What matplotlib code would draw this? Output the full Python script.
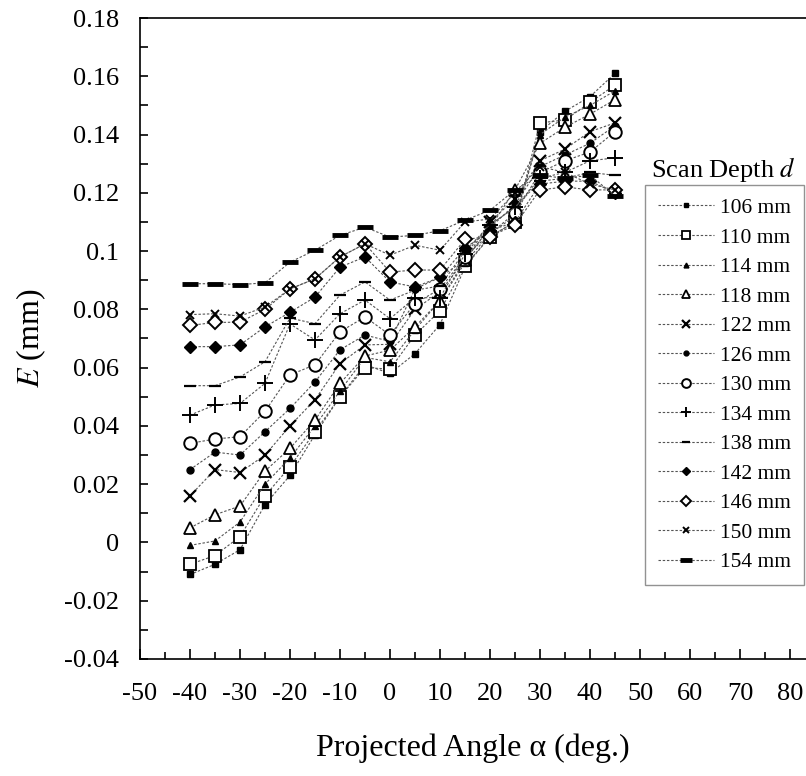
import matplotlib
matplotlib.use("Agg")
import matplotlib.pyplot as plt
from matplotlib.ticker import MultipleLocator

plt.rcParams['font.family'] = ['Liberation Serif', 'DejaVu Serif']
plt.rcParams['mathtext.fontset'] = 'stix'
plt.rcParams['axes.unicode_minus'] = False

angles = [-40, -35, -30, -25, -20, -15, -10, -5, 0, 5, 10, 15, 20, 25, 30, 35, 40, 45]

depth_labels = ['106 mm', '110 mm', '114 mm', '118 mm', '122 mm', '126 mm', '130 mm',
                '134 mm', '138 mm', '142 mm', '146 mm', '150 mm', '154 mm']

e_106 = [-0.011, -0.0075, -0.0025, 0.013, 0.023, 0.037, 0.050, 0.061, 0.058, 0.0648, 0.0748,
         0.0945, 0.105, 0.110, 0.141, 0.148, 0.153, 0.161]
e_110 = [-0.0075, -0.0045, 0.002, 0.016, 0.026, 0.038, 0.050, 0.060, 0.0595, 0.0712, 0.0795,
         0.095, 0.105, 0.110, 0.144, 0.145, 0.151, 0.157]
e_114 = [-0.001, 0.0005, 0.007, 0.020, 0.029, 0.040, 0.052, 0.0635, 0.062, 0.073, 0.083,
         0.096, 0.106, 0.112, 0.140, 0.146, 0.150, 0.155]
e_118 = [0.005, 0.0095, 0.0125, 0.0245, 0.0323, 0.042, 0.0546, 0.064, 0.066, 0.074, 0.083,
         0.097, 0.108, 0.121, 0.137, 0.1425, 0.147, 0.152]
e_122 = [0.016, 0.025, 0.024, 0.030, 0.040, 0.049, 0.0614, 0.0678, 0.068, 0.080, 0.086,
         0.097, 0.110, 0.118, 0.131, 0.135, 0.141, 0.144]
e_126 = [0.025, 0.031, 0.030, 0.038, 0.046, 0.0551, 0.0661, 0.0712, 0.069, 0.087, 0.091,
         0.097, 0.108, 0.116, 0.129, 0.133, 0.137, 0.143]
e_130 = [0.034, 0.0355, 0.0363, 0.045, 0.0575, 0.061, 0.0723, 0.0774, 0.0712, 0.082, 0.087,
         0.098, 0.106, 0.113, 0.127, 0.131, 0.134, 0.141]
e_134 = [0.0437, 0.0472, 0.0477, 0.0546, 0.075, 0.0695, 0.0785, 0.0832, 0.0768, 0.084, 0.084,
         0.099, 0.109, 0.115, 0.125, 0.127, 0.131, 0.132]
e_138 = [0.0538, 0.0538, 0.0568, 0.062, 0.077, 0.0751, 0.0849, 0.0894, 0.0832, 0.0866, 0.088,
         0.100, 0.109, 0.115, 0.124, 0.125, 0.127, 0.126]
e_142 = [0.0672, 0.0672, 0.0678, 0.074, 0.079, 0.0842, 0.0945, 0.098, 0.0894, 0.0877, 0.091,
         0.101, 0.107, 0.110, 0.123, 0.124, 0.124, 0.120]
e_146 = [0.0745, 0.0755, 0.0756, 0.080, 0.087, 0.0905, 0.098, 0.1025, 0.0928, 0.0935, 0.0935,
         0.104, 0.105, 0.109, 0.121, 0.122, 0.121, 0.121]
e_150 = [0.0782, 0.0785, 0.0777, 0.0808, 0.087, 0.0905, 0.098, 0.1025, 0.0986, 0.102, 0.1003,
         0.110, 0.111, 0.120, 0.129, 0.127, 0.123, 0.121]
e_154 = [0.0888, 0.0888, 0.0885, 0.0891, 0.0962, 0.1003, 0.1054, 0.1082, 0.1048, 0.1054, 0.107,
         0.1106, 0.114, 0.121, 0.126, 0.125, 0.126, 0.119]

series = [e_106, e_110, e_114, e_118, e_122, e_126, e_130, e_134, e_138, e_142, e_146, e_150, e_154]

# marker, size, filled, edge width
styles = [
    ('s', 5, True, 1.0),
    ('s', 9, False, 1.3),
    ('^', 5, True, 1.0),
    ('^', 8, False, 1.3),
    ('x', 9, False, 1.6),
    ('o', 5, True, 1.0),
    ('o', 9, False, 1.4),
    ('+', 11, False, 1.4),
    ('_', 9, False, 1.6),
    ('D', 6, True, 1.0),
    ('D', 7, False, 1.4),
    ('x', 6, False, 1.4),
    ('_', 12, False, 3.5),
]

fig = plt.figure(figsize=(8.06, 7.76), dpi=100)
ax = fig.add_axes([0.1737, 0.1508, 0.8263, 0.826])

handles = []
for vals, lab, (m, ms, filled, mew) in zip(series, depth_labels, styles):
    h, = ax.plot(angles, vals, linestyle=(0, (2.2, 1.6)), color='#555555', linewidth=0.8,
                 marker=m, markersize=ms, markeredgewidth=mew,
                 markerfacecolor='black' if filled else 'white',
                 markeredgecolor='black', label=lab)
    handles.append(h)

ax.set_xlim(-50, 83.2)
ax.set_ylim(-0.04, 0.18)
ax.xaxis.set_major_locator(MultipleLocator(10))
ax.xaxis.set_minor_locator(MultipleLocator(5))
ax.yaxis.set_minor_locator(MultipleLocator(0.01))
ax.tick_params(axis='x', which='major', direction='in', length=7, width=1.2, pad=17, labelsize=19)
ax.tick_params(axis='x', which='minor', direction='in', length=5, width=1.2)
ax.tick_params(axis='y', which='major', direction='in', length=6, width=1.2, pad=15, labelsize=19)
ax.tick_params(axis='y', which='minor', direction='in', length=6, width=1.2)
ax.spines['right'].set_visible(False)
for s in ['left', 'bottom', 'top']:
    ax.spines[s].set_linewidth(1.2)

ytick_vals = [-0.04, -0.02, 0, 0.02, 0.04, 0.06, 0.08, 0.1, 0.12, 0.14, 0.16, 0.18]
ax.set_yticks(ytick_vals)
ax.set_yticklabels(['%g' % v if v != 0 else '0' for v in ytick_vals])

ax.set_xlabel('Projected Angle α (deg.)', fontsize=23, labelpad=21)
ax.set_ylabel('$E$ (mm)', fontsize=23, labelpad=12)

leg = ax.legend(handles=handles, loc='upper left', bbox_to_anchor=(0.758, 0.7395),
                fontsize=15.5, frameon=True, fancybox=False, edgecolor='#777777',
                handlelength=2.6, handletextpad=0.3, labelspacing=0.44, borderpad=0.6,
                borderaxespad=0, markerscale=0.7)
leg.get_frame().set_linewidth(1.0)

fig.text(0.808, 0.781, 'Scan Depth $d$', fontsize=19, ha='left', va='center')

fig.savefig('out.png', dpi=100)
